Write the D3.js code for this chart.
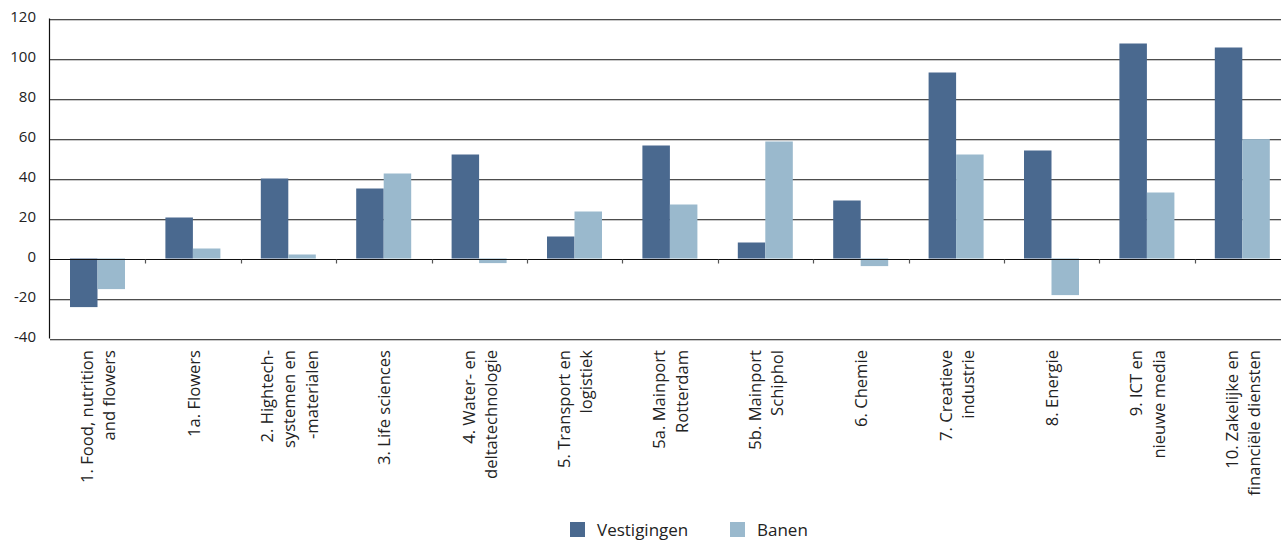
<!DOCTYPE html>
<html><head><meta charset="utf-8">
<script src="https://cdn.jsdelivr.net/npm/d3@7"></script>
<style>
html,body{margin:0;padding:0;background:#fff;}
svg{display:block;font-family:"Open Sans","Noto Sans",sans-serif;}
</style></head>
<body><svg id="c" width="1281" height="543"></svg>
<script>
const categories = [
  "1. Food, nutrition|and flowers", "1a. Flowers", "2. Hightech-|systemen en|-materialen",
  "3. Life sciences", "4. Water- en|deltatechnologie", "5. Transport en|logistiek",
  "5a. Mainport|Rotterdam", "5b. Mainport|Schiphol", "6. Chemie", "7. Creatieve|industrie",
  "8. Energie", "9. ICT en|nieuwe media", "10. Zakelijke en|financiële diensten"
];
const vestigingen = [-24.3, 20.5, 40, 35, 52, 11, 56.5, 8, 29, 93, 54, 107.5, 105.5];
const banen = [-15.3, 5, 2, 42.5, -2.3, 23.5, 27, 58.5, -3.8, 52, -18.3, 33, 59.7];
const seriesNames = ["Vestigingen", "Banen"];
const yTicks = [-40, -20, 0, 20, 40, 60, 80, 100, 120];
const colors = ["#4a698f", "#9ab9cd"];

(function () {
const svg = d3.select("#c");
const mLeft = 50, mTop = 18.5, mBottom = 338.5, band = 95.4;
const y = d3.scaleLinear().domain([-40, 120]).range([mBottom, mTop]);
const x0 = d3.scaleBand().domain(categories).range([mLeft, mLeft + band * categories.length]).padding(0);
const x1 = d3.scaleBand().domain(seriesNames).range([20, band - 20.4]).padding(0);

// gridlines
const grid = svg.append("g");
yTicks.forEach(t => {
  if (t === 0) return;
  grid.append("line").attr("x1", mLeft).attr("x2", 1281).attr("y1", Math.round(y(t)) + 0.5).attr("y2", Math.round(y(t)) + 0.5)
    .attr("stroke", "#4d4d4d").attr("stroke-width", 1);
  grid.append("line").attr("x1", mLeft).attr("x2", 1281).attr("y1", Math.round(y(t)) + 1.5).attr("y2", Math.round(y(t)) + 1.5)
    .attr("stroke", "#c8c8c8").attr("stroke-width", 1);
});

// y axis labels
const yAxis = d3.axisLeft(y).tickValues(yTicks).tickSize(0).tickPadding(14).tickFormat(d => String(d));
const yg = svg.append("g").attr("transform", `translate(${mLeft},0)`).call(yAxis);
yg.select(".domain").remove();
yg.selectAll("text").attr("font-size", 15).attr("fill", "#222").attr("font-family", "'Open Sans',sans-serif").attr("dy", "0.2em");

// bars
const data = categories.map((c, i) => ({ c, vals: [vestigingen[i], banen[i]] }));
const groups = svg.append("g").selectAll("g").data(data).join("g")
  .attr("transform", d => `translate(${x0(d.c)},0)`);
groups.selectAll("rect").data(d => d.vals.map((v, k) => ({ v, k }))).join("rect")
  .attr("x", d => x1(seriesNames[d.k]))
  .attr("width", x1.bandwidth())
  .attr("y", d => Math.min(y(d.v), y(0)))
  .attr("height", d => Math.abs(y(d.v) - y(0)))
  .attr("fill", d => colors[d.k]);

// zero axis with ticks at category boundaries
const zy = Math.round(y(0)) + 0.5;
svg.append("line").attr("x1", mLeft).attr("x2", 1281).attr("y1", zy).attr("y2", zy).attr("stroke", "#111").attr("stroke-width", 1.2);
categories.forEach((c, i) => {
  if (i === 0) return;
  const tx = Math.round(x0(c)) + 0.5;
  svg.append("line").attr("x1", tx).attr("x2", tx).attr("y1", zy).attr("y2", zy + 4).attr("stroke", "#555").attr("stroke-width", 1.2);
});
// y axis line
svg.append("line").attr("x1", mLeft - 0.5).attr("x2", mLeft - 0.5).attr("y1", mTop).attr("y2", mBottom).attr("stroke", "#111").attr("stroke-width", 1.2);

// category labels (rotated)
const lineH = 22.5;
categories.forEach(c => {
  const lines = c.split("|");
  const cx = x0(c) + band / 2;
  lines.forEach((ln, j) => {
    const lx = cx + (j - (lines.length - 1) / 2) * lineH;
    svg.append("text").attr("transform", `translate(${lx},350) rotate(-90)`)
      .attr("text-anchor", "end").attr("dominant-baseline", "central")
      .attr("font-size", 16.6).attr("fill", "#222").text(ln);
  });
});

// legend
const legX = [570, 730];
seriesNames.forEach((s, k) => {
  svg.append("rect").attr("x", legX[k]).attr("y", 522).attr("width", 15).attr("height", 15).attr("fill", colors[k]);
  svg.append("text").attr("x", legX[k] + 27).attr("y", 536).attr("font-size", 17).attr("fill", "#222").text(s);
});
})();
</script></body></html>
